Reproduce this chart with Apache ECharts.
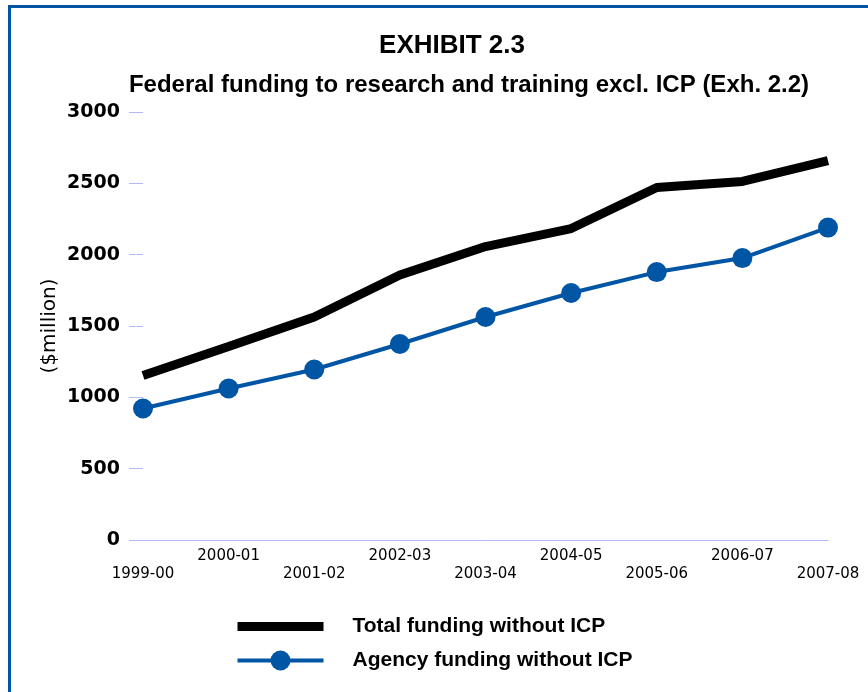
<!DOCTYPE html>
<html lang="en">
<head>
    <meta charset="UTF-8">
    <title>Exhibit 2.3</title>
    <script type="text/javascript" src="https://cdn.jsdelivr.net/npm/echarts@6/dist/echarts.min.js"></script>
    <style>
        html, body { margin: 0; padding: 0; background: #fff; }
    </style>
</head>
<body>
<div id="main" style="width: 868px;height:692px;"></div>

<script type="text/javascript">
    // data ($million)
    var years = ['1999-00', '2000-01', '2001-02', '2002-03', '2003-04', '2004-05', '2005-06', '2006-07', '2007-08'];
    var totalFunding = [1153, 1356, 1563, 1857, 2057, 2183, 2471, 2513, 2660];
    var agencyFunding = [922, 1062, 1195, 1374, 1563, 1731, 1878, 1976, 2190];
    var yTicks = [0, 500, 1000, 1500, 2000, 2500, 3000];

    var blue = '#0055a4';
    var myChart = echarts.init(document.getElementById('main'));

    var option = {
        animation: false,
        title: [
            {
                text: 'EXHIBIT 2.3',
                left: 447,
                top: 28,
                textAlign: 'center',
                textStyle: { fontFamily: 'Liberation Sans', fontWeight: 'bold', fontSize: 26, color: '#000' }
            },
            {
                text: 'Federal funding to research and training excl. ICP (Exh. 2.2)',
                left: 464,
                top: 68,
                textAlign: 'center',
                textStyle: { fontFamily: 'Liberation Sans', fontWeight: 'bold', fontSize: 24, color: '#000' }
            }
        ],
        graphic: [
            { type: 'rect', shape: { x: 8, y: 5, width: 860, height: 3 }, style: { fill: blue } },
            { type: 'rect', shape: { x: 8, y: 5, width: 3, height: 687 }, style: { fill: blue } }
        ],
        legend: {
            orient: 'vertical',
            left: 233,
            top: 616,
            padding: 0,
            itemWidth: 86,
            itemHeight: 25,
            itemGap: 13,
            textStyle: {
                fontFamily: 'Liberation Sans', fontWeight: 'bold', fontSize: 21, color: '#000',
                padding: [0, 0, 0, 24]
            },
            data: [
                { name: 'Total funding without ICP', lineStyle: { width: 9, color: '#000' }, itemStyle: { opacity: 0 } },
                { name: 'Agency funding without ICP', lineStyle: { width: 4, color: blue } }
            ]
        },
        grid: {
            left: 143,
            right: 40,
            top: 112,
            bottom: 152
        },
        xAxis: {
            type: 'category',
            boundaryGap: false,
            data: years,
            axisLine: { lineStyle: { color: '#b3b8f8', width: 1 } },
            axisTick: { show: false },
            axisLabel: {
                margin: 7,
                interval: 0,
                fontFamily: 'DejaVu Sans',
                fontSize: 15,
                lineHeight: 18,
                color: '#000',
                formatter: function (val, idx) {
                    return idx % 2 === 0 ? '\n' + val : val;
                }
            }
        },
        yAxis: {
            type: 'value',
            min: yTicks[0],
            max: yTicks[yTicks.length - 1],
            interval: 500,
            name: '($million)',
            nameLocation: 'middle',
            nameRotate: 90,
            nameGap: 83,
            nameMoveOverlap: false,
            nameTextStyle: { fontFamily: 'DejaVu Sans', fontSize: 20, color: '#000' },
            axisLine: { show: false },
            axisTick: { show: true, length: 14, lineStyle: { color: '#b3b8f8' } },
            splitLine: { show: false },
            axisLabel: {
                margin: 23,
                fontFamily: 'DejaVu Sans',
                fontWeight: 'bold',
                fontSize: 19,
                color: '#000',
                formatter: function (v) { return String(v); }
            }
        },
        series: [
            {
                name: 'Total funding without ICP',
                type: 'line',
                data: totalFunding,
                symbol: 'none',
                lineStyle: { color: '#000', width: 9 },
                itemStyle: { color: '#000' }
            },
            {
                name: 'Agency funding without ICP',
                type: 'line',
                data: agencyFunding,
                symbol: 'circle',
                symbolSize: 20,
                lineStyle: { color: blue, width: 4 },
                itemStyle: { color: blue }
            }
        ]
    };

    myChart.setOption(option);
</script>
</body>
</html>
